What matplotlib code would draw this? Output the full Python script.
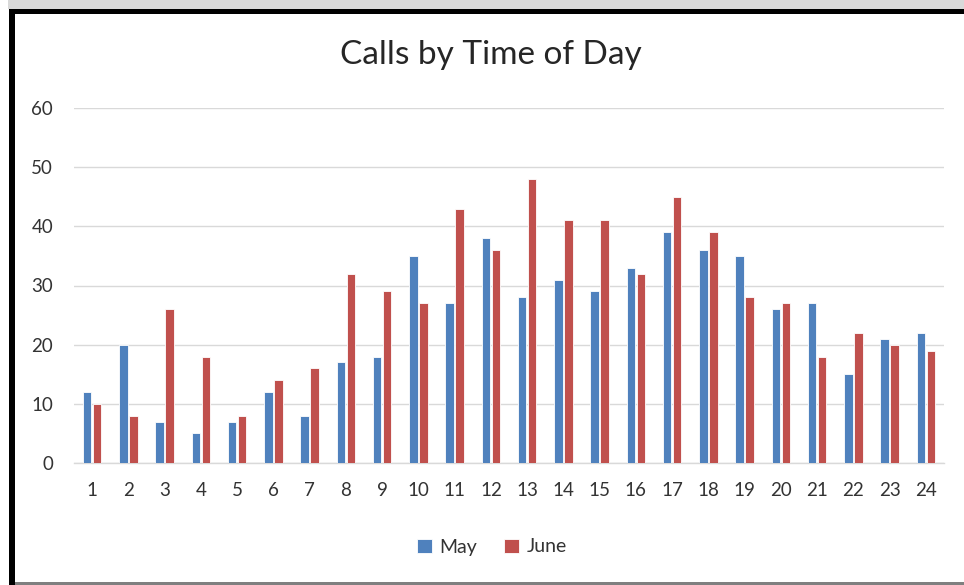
import matplotlib
matplotlib.use("Agg")
import matplotlib.pyplot as plt
import numpy as np
from matplotlib.patches import Rectangle

hours = [str(h) for h in range(1, 25)]
may = [12, 20, 7, 5, 7, 12, 8, 17, 18, 35, 27, 38, 28, 31, 29, 33, 39, 36, 35, 26, 27, 15, 21, 22]
june = [10, 8, 26, 18, 8, 14, 16, 32, 29, 27, 43, 36, 48, 41, 41, 32, 45, 39, 28, 27, 18, 22, 20, 19]
yticks = [0, 10, 20, 30, 40, 50, 60]

plt.rcParams['font.family'] = ['Lato', 'DejaVu Sans']

W, H = 964, 585
fig = plt.figure(figsize=(W / 100, H / 100), dpi=100)
fig.patch.set_facecolor('white')

# screenshot frame
def px_rect(x0, y0, x1, y1, color):
    fig.patches.append(Rectangle((x0 / W, 1 - y1 / H), (x1 - x0) / W, (y1 - y0) / H,
                                 transform=fig.transFigure, facecolor=color,
                                 edgecolor='none', zorder=0))

px_rect(8, 0, W, 9, '#d9d9d9')
px_rect(9, 9, W, 14, '#000000')
px_rect(9, 9, 15, H, '#000000')
px_rect(15, 582, W, H, '#7f7f7f')

left, right = 74, 944
top, bottom = 108, 463
ax = fig.add_axes([left / W, 1 - bottom / H, (right - left) / W, (bottom - top) / H])
ax.set_facecolor('none')

x = np.arange(len(hours))
bw = 0.235
ax.bar(x - bw / 2 - 0.02, may, width=bw, color='#4f81bd', edgecolor='white', linewidth=0.6,
       label='May', zorder=3)
ax.bar(x + bw / 2 + 0.02, june, width=bw, color='#c0504d', edgecolor='white', linewidth=0.6,
       label='June', zorder=3)

ax.set_xlim(-0.5, len(hours) - 0.5)
ax.set_ylim(0, 60)
ax.set_yticks(yticks)
ax.set_xticks(x)
ax.set_xticklabels(hours)
ax.yaxis.grid(True, color='#d9d9d9', linewidth=1.0, zorder=0)
ax.set_axisbelow(True)
for s in ['top', 'right', 'left']:
    ax.spines[s].set_visible(False)
ax.spines['bottom'].set_color('#d9d9d9')
ax.spines['bottom'].set_linewidth(1.0)
ax.tick_params(axis='both', length=0, labelsize=13.5, labelcolor='#333333')
ax.tick_params(axis='y', pad=15)
ax.tick_params(axis='x', pad=14)

fig.text(491 / W, 1 - 55 / H, 'Calls by Time of Day', ha='center', va='center',
         fontsize=24, color='#262626')

leg = fig.legend(loc='center', bbox_to_anchor=(492 / W, 1 - 547 / H), ncol=2, frameon=False,
                 fontsize=14, handlelength=0.75, handleheight=0.75, columnspacing=1.4,
                 handletextpad=0.4, labelcolor='#333333')

fig.savefig('out.png', dpi=100, facecolor='white')
